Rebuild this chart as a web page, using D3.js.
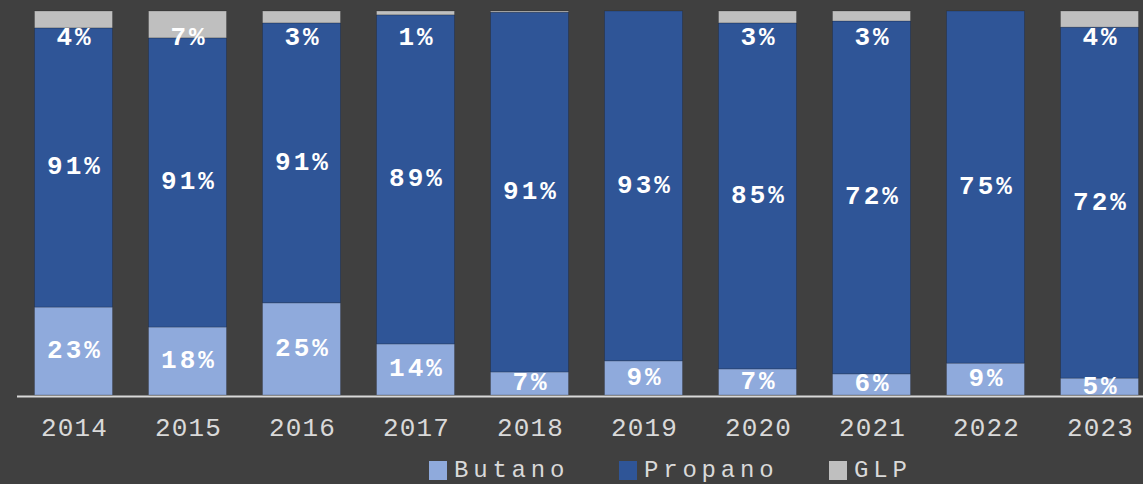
<!DOCTYPE html>
<html>
<head>
<meta charset="utf-8">
<script src="https://cdn.jsdelivr.net/npm/d3@7"></script>
<style>
  html, body { margin: 0; padding: 0; background: #404040; }
  svg { display: block; }
</style>
</head>
<body>
<svg id="chart" width="1143" height="484"></svg>
<script>
// ---- data ----
const years = ["2014", "2015", "2016", "2017", "2018", "2019", "2020", "2021", "2022", "2023"];
const seriesNames = ["Butano", "Propano", "GLP"];
const butano  = [22.9, 17.7, 24.0, 13.3, 6.0, 8.9, 6.8, 5.5, 8.3, 4.4];
const propano = [72.7, 75.3, 72.9, 85.7, 93.7, 91.1, 90.1, 91.9, 91.7, 91.4];
const glp     = [4.4, 7.0, 3.1, 1.0, 0.3, 0.0, 3.1, 2.6, 0.0, 4.2];
const butanoLabels  = ["23%", "18%", "25%", "14%", "7%", "9%", "7%", "6%", "9%", "5%"];
const propanoLabels = ["91%", "91%", "91%", "89%", "91%", "93%", "85%", "72%", "75%", "72%"];
const glpLabels     = ["4%", "7%", "3%", "1%", "", "", "3%", "3%", "", "4%"];

const colors = { Butano: "#8FAADC", Propano: "#2F5597", GLP: "#BFBFBF" };

const rows = years.map((y, i) => ({ year: y, Butano: butano[i], Propano: propano[i], GLP: glp[i] }));
const labelMap = { Butano: butanoLabels, Propano: propanoLabels, GLP: glpLabels };

const svg = d3.select("#chart");
const W = 1143, H = 484;
svg.append("rect").attr("width", W).attr("height", H).attr("fill", "#404040");

const x = d3.scaleBand().domain(years).range([16.5, 1156.5]).paddingInner(0.316).paddingOuter(0.158);
const y = d3.scaleLinear().domain([0, 100]).range([395, 11]);

const stack = d3.stack().keys(seriesNames);
const layers = stack(rows);

const font = "'Liberation Mono', 'Courier New', monospace";

const g = svg.append("g");
layers.forEach(layer => {
  const key = layer.key;
  g.selectAll(null).data(layer).enter().append("rect")
    .attr("x", d => x(d.data.year))
    .attr("width", x.bandwidth())
    .attr("y", d => y(d[1]))
    .attr("height", d => Math.max(0, y(d[0]) - y(d[1])))
    .attr("fill", colors[key])
    .attr("stroke", "rgba(0,0,0,0.18)")
    .attr("stroke-width", 1);
});

// labels
layers.forEach(layer => {
  const key = layer.key;
  const labs = labelMap[key];
  g.selectAll(null).data(layer).enter().append("text")
    .text((d, i) => labs[i])
    .attr("x", d => x(d.data.year) + x.bandwidth() / 2 + 1.5)
    .attr("y", d => key === "GLP" ? y(d[1]) + 27 : (y(d[0]) + y(d[1])) / 2)
    .attr("text-anchor", "middle")
    .attr("dominant-baseline", "central")
    .attr("fill", "#ffffff")
    .attr("font-family", font)
    .attr("font-weight", "bold")
    .attr("font-size", 26)
    .attr("letter-spacing", 3);
});

// x axis
const xAxis = d3.axisBottom(x).tickSize(0).tickPadding(0);
const ax = svg.append("g").attr("transform", "translate(0,396.5)").call(xAxis);
ax.select(".domain").attr("d", "M17,0H1143").attr("stroke", "#D9D9D9").attr("stroke-width", 2);
ax.selectAll("text")
  .attr("y", 39.5)
  .attr("dy", 0)
  .attr("dx", 1)
  .attr("fill", "#D9D9D9")
  .attr("font-family", font)
  .attr("font-size", 26)
  .attr("letter-spacing", 1.2);

// legend
const legendX = [429, 619, 829];
const lg = svg.append("g");
seriesNames.forEach((name, i) => {
  lg.append("rect").attr("x", legendX[i]).attr("y", 461).attr("width", 18).attr("height", 19).attr("fill", colors[name]);
  lg.append("text").text(name)
    .attr("x", legendX[i] + 25)
    .attr("y", 476.5)
    .attr("fill", "#D9D9D9")
    .attr("font-family", font)
    .attr("font-size", 24)
    .attr("letter-spacing", 4.8);
});
</script>
</body>
</html>
